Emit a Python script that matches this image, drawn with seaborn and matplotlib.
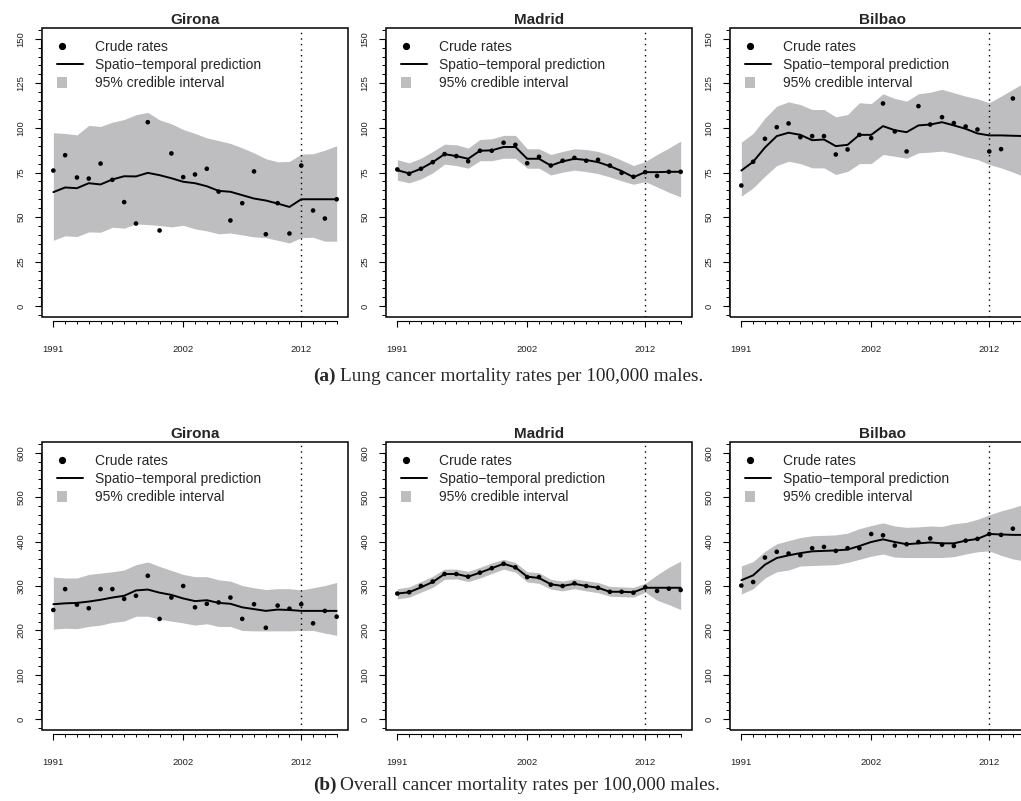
import matplotlib
matplotlib.use('Agg')
import matplotlib.pyplot as plt
from matplotlib.lines import Line2D
from matplotlib.patches import Patch, Rectangle
from matplotlib.legend_handler import HandlerBase
from matplotlib.ticker import MultipleLocator, FixedLocator
import seaborn as sns

# ---- data ----
years = list(range(1991, 2016))
cities = ['Girona', 'Madrid', 'Bilbao']

# (a) lung cancer
lung_girona_rate = [76.1, 84.7, 72.2, 71.6, 80.0, 70.9, 58.4, 46.4, 103.2, 42.5, 85.7, 72.4, 73.9,
                    77.1, 64.3, 48.1, 57.8, 75.6, 40.4, 57.8, 40.8, 78.9, 53.7, 49.2, 60.0]
lung_girona_pred = [64.0, 66.6, 66.2, 69.0, 68.3, 71.1, 72.9, 72.8, 74.8, 73.5, 71.8, 69.8, 69.0,
                    67.3, 64.7, 64.2, 62.3, 60.4, 59.3, 57.6, 55.7, 60.0, 60.0, 60.0, 60.0]
lung_girona_low = [37.0, 39.5, 39.1, 41.7, 41.5, 44.3, 43.8, 46.2, 45.8, 45.3, 44.5, 45.4, 43.4,
                   42.3, 40.6, 41.1, 40.0, 38.9, 38.5, 37.0, 35.5, 38.5, 38.7, 36.5, 36.5]
lung_girona_up = [97.3, 96.9, 96.1, 101.4, 100.8, 103.2, 104.7, 107.4, 108.7, 104.5, 102.3, 99.1, 96.9,
                  94.4, 92.9, 91.3, 88.8, 86.0, 82.7, 81.0, 81.2, 85.3, 85.5, 87.5, 90.0]

lung_madrid_rate = [76.7, 74.3, 77.1, 80.8, 85.3, 84.2, 81.3, 87.2, 87.2, 91.7, 90.5, 80.2, 83.8,
                    78.9, 81.6, 83.2, 81.6, 82.1, 78.9, 74.8, 72.6, 75.2, 73.1, 75.4, 75.4]
lung_madrid_pred = [76.3, 74.5, 77.1, 80.8, 85.3, 84.2, 82.7, 87.2, 87.4, 89.3, 89.3, 82.7, 82.7,
                    78.9, 81.2, 82.7, 82.0, 80.8, 78.6, 75.8, 72.4, 75.2, 75.2, 75.4, 75.4]
lung_madrid_low = [70.7, 69.2, 71.4, 74.8, 79.7, 78.9, 77.4, 81.6, 81.6, 83.0, 83.0, 77.4, 77.4,
                   73.6, 75.2, 76.3, 75.5, 74.4, 72.5, 70.3, 68.4, 69.9, 66.9, 63.9, 61.3]
lung_madrid_up = [82.2, 80.4, 83.0, 86.8, 90.9, 90.5, 88.7, 93.5, 93.9, 95.8, 95.8, 88.3, 88.3,
                  85.1, 86.8, 88.3, 87.9, 86.8, 84.7, 81.9, 78.9, 81.1, 85.1, 88.7, 92.6]

lung_bilbao_rate = [67.7, 81.0, 93.9, 100.4, 102.5, 94.8, 95.4, 95.4, 85.1, 87.9, 96.1, 94.3, 113.7,
                    98.0, 86.8, 112.2, 101.9, 106.0, 102.7, 100.8, 99.1, 86.8, 88.1, 116.5, 104.8]
lung_bilbao_pred = [76.1, 81.0, 89.0, 95.4, 97.3, 96.1, 93.1, 93.5, 89.8, 90.5, 96.1, 96.1, 101.0,
                    98.7, 97.6, 101.4, 101.9, 103.2, 101.4, 99.5, 96.9, 95.8, 95.8, 95.6, 95.4]
lung_bilbao_low = [61.7, 66.4, 72.9, 78.9, 81.3, 80.0, 77.6, 77.6, 73.9, 75.6, 80.0, 80.0, 85.1,
                   84.1, 83.0, 86.0, 86.4, 87.0, 85.7, 83.8, 82.3, 79.5, 77.6, 75.2, 72.6]
lung_bilbao_up = [92.0, 96.9, 105.5, 112.2, 114.6, 113.1, 110.3, 110.3, 106.2, 107.5, 114.1, 113.6, 119.1,
                  116.5, 115.0, 119.1, 120.0, 121.6, 119.7, 117.8, 116.3, 114.1, 117.8, 121.6, 125.5]

# (b) overall cancer
all_girona_rate = [246, 293, 258, 250, 293, 293, 271, 278, 323, 226, 274, 300, 252,
                   260, 263, 274, 226, 259, 206, 256, 249, 259, 216, 244, 231]
all_girona_pred = [259, 261, 262, 265, 269, 274, 278, 290, 292, 285, 280, 272, 266,
                   268, 262, 260, 252, 248, 244, 247, 246, 244, 244, 244, 244]
all_girona_low = [203, 205, 204, 209, 212, 218, 221, 232, 232, 225, 221, 217, 212,
                  215, 209, 209, 200, 199, 199, 199, 199, 200, 200, 194, 189]
all_girona_up = [320, 318, 318, 326, 329, 332, 336, 348, 354, 344, 335, 326, 321,
                 321, 314, 311, 301, 296, 292, 294, 294, 291, 296, 301, 308]

all_madrid_rate = [283, 286, 300, 310, 327, 327, 321, 330, 340, 350, 342, 320, 320,
                   303, 300, 306, 300, 296, 287, 287, 285, 297, 289, 294, 291]
all_madrid_pred = [283, 286, 297, 309, 327, 327, 321, 330, 340, 350, 342, 321, 318,
                   304, 300, 305, 300, 296, 287, 287, 286, 296, 296, 296, 296]
all_madrid_low = [271, 275, 286, 297, 315, 316, 310, 318, 328, 338, 331, 309, 306,
                  293, 289, 294, 289, 285, 277, 276, 275, 286, 268, 258, 247]
all_madrid_up = [294, 298, 310, 322, 338, 338, 333, 342, 352, 360, 353, 332, 330,
                 315, 311, 316, 312, 308, 299, 298, 297, 306, 325, 342, 356]

all_bilbao_rate = [301, 309, 364, 377, 373, 369, 385, 388, 379, 385, 385, 417, 414,
                   391, 394, 399, 407, 393, 390, 402, 406, 417, 415, 429, 432]
all_bilbao_pred = [313, 324, 348, 363, 369, 374, 378, 379, 380, 382, 390, 399, 405,
                   399, 394, 396, 398, 396, 396, 402, 406, 417, 416, 415, 415]
all_bilbao_low = [282, 294, 318, 332, 336, 345, 346, 347, 348, 353, 360, 367, 372,
                  365, 364, 364, 364, 364, 366, 372, 377, 379, 369, 361, 356]
all_bilbao_up = [345, 355, 378, 395, 402, 409, 413, 414, 415, 419, 429, 436, 442,
                 435, 432, 433, 435, 434, 440, 443, 450, 460, 469, 476, 485]

panels_a = [(lung_girona_rate, lung_girona_pred, lung_girona_low, lung_girona_up),
            (lung_madrid_rate, lung_madrid_pred, lung_madrid_low, lung_madrid_up),
            (lung_bilbao_rate, lung_bilbao_pred, lung_bilbao_low, lung_bilbao_up)]
panels_b = [(all_girona_rate, all_girona_pred, all_girona_low, all_girona_up),
            (all_madrid_rate, all_madrid_pred, all_madrid_low, all_madrid_up),
            (all_bilbao_rate, all_bilbao_pred, all_bilbao_low, all_bilbao_up)]

band_col = '#bebec0'

sns.set_style('white')
plt.rcParams['font.family'] = ['Liberation Sans', 'DejaVu Sans']

W, H = 1021, 801
fig = plt.figure(figsize=(W / 100, H / 100), dpi=100)


def px_axes(x0, y0, x1, y1):
    return fig.add_axes([x0 / W, 1 - y1 / H, (x1 - x0) / W, (y1 - y0) / H])


class LeftDot(HandlerBase):
    def create_artists(self, legend, orig_handle, xdescent, ydescent, width, height, fontsize, trans):
        m = Line2D([height * 0.5 - xdescent], [height * 0.5 - ydescent], marker='o', ls='',
                   color='black', markersize=4.2, transform=trans)
        return [m]


class LeftSquare(HandlerBase):
    def create_artists(self, legend, orig_handle, xdescent, ydescent, width, height, fontsize, trans):
        s = height * 1.05
        r = Rectangle((-xdescent, -ydescent + (height - s) / 2), s, s, facecolor=band_col,
                      edgecolor='none', transform=trans)
        return [r]


def draw_panel(ax, city, vals, ymax, ymajor, yminor):
    rate, pred, low, up = vals
    ax.fill_between(years, low, up, color=band_col, lw=0, zorder=1)
    sns.lineplot(x=years, y=pred, color='black', lw=1.4, ax=ax, zorder=3)
    sns.scatterplot(x=years, y=rate, color='black', s=11, edgecolor='none', ax=ax, zorder=4)
    ax.axvline(2012, color='black', ls=(0, (1, 3)), lw=1, zorder=2)

    pad_y = ymax * 0.04
    ax.set_xlim(1991 - 0.96, 2015 + 0.96)
    ax.set_ylim(-pad_y, ymax + pad_y)

    ax.xaxis.set_major_locator(FixedLocator([1991, 2002, 2012]))
    ax.xaxis.set_minor_locator(MultipleLocator(1))
    ax.yaxis.set_major_locator(MultipleLocator(ymajor))
    ax.yaxis.set_minor_locator(MultipleLocator(yminor))

    for s in ['top', 'right']:
        ax.spines[s].set_visible(False)
    ax.spines['bottom'].set_position(('outward', 3))
    ax.spines['bottom'].set_bounds(1991, 2015)
    ax.spines['left'].set_position(('outward', 1))
    ax.spines['left'].set_bounds(0, ymax)
    for s in ['bottom', 'left']:
        ax.spines[s].set_color('black')
        ax.spines[s].set_linewidth(0.8)
    ax.add_patch(Rectangle((0, 0), 1, 1, transform=ax.transAxes, fill=False,
                           edgecolor='black', lw=1.1, clip_on=False, zorder=5))

    ax.tick_params(which='both', bottom=True, left=True, top=False, right=False)
    ax.tick_params(which='major', direction='out', length=4.5, width=0.8, color='black',
                   labelsize=6.8, labelcolor='#222222')
    ax.tick_params(which='minor', direction='out', length=2.5, width=0.7, color='black')
    ax.tick_params(axis='x', which='major', pad=13)
    ax.tick_params(axis='y', which='major', pad=6.5, labelrotation=90)
    for lab in ax.get_yticklabels():
        lab.set_va('center')
    ax.set_xlabel('')
    ax.set_ylabel('')
    ax.set_title(city, fontweight='bold', fontsize=11, pad=3)

    handles = [Line2D([], [], marker='o', ls='', color='black'),
               Line2D([], [], color='black', lw=1.4),
               Patch(facecolor=band_col)]
    labels = ['Crude rates', 'Spatio\u2212temporal prediction', '95% credible interval']
    ax.legend(handles, labels, loc='upper left', bbox_to_anchor=(15 / 306, 1 - 12 / 289),
              frameon=False, fontsize=10, borderpad=0, borderaxespad=0, handlelength=1.9,
              handletextpad=0.85, labelspacing=0.3,
              handler_map={handles[0]: LeftDot(), handles[2]: LeftSquare()})


lefts = [42, 386, 730]
for i, city in enumerate(cities):
    ax = px_axes(lefts[i], 28, lefts[i] + 306, 317)
    draw_panel(ax, city, panels_a[i], 150, 25, 5)
    ax = px_axes(lefts[i], 442, lefts[i] + 306, 730)
    draw_panel(ax, city, panels_b[i], 600, 100, 20)

cap_kw = dict(fontsize=13.9, family=['Liberation Serif', 'DejaVu Serif'], va='center', ha='left')
fig.text(313 / W, 1 - 376 / H, '(a)', fontweight='bold', **cap_kw)
fig.text(340 / W, 1 - 376 / H, 'Lung cancer mortality rates per 100,000 males.', **cap_kw)
fig.text(313 / W, 1 - 785 / H, '(b)', fontweight='bold', **cap_kw)
fig.text(340 / W, 1 - 785 / H, 'Overall cancer mortality rates per 100,000 males.', **cap_kw)

fig.savefig('out.png', dpi=100)
